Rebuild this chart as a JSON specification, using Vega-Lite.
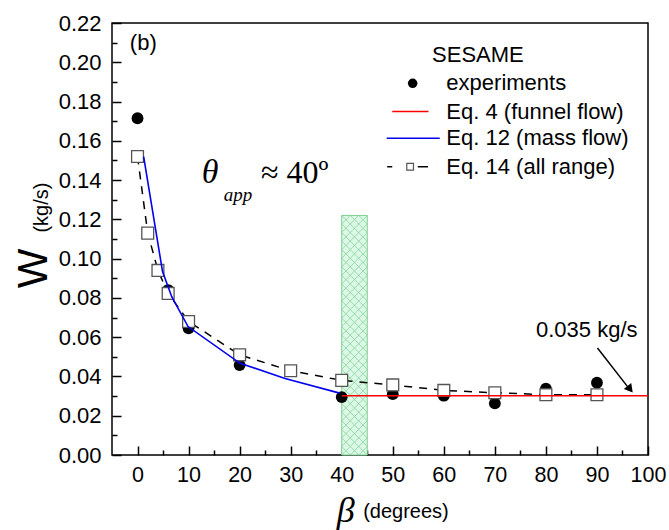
{
  "$schema": "https://vega.github.io/schema/vega-lite/v6.json",
  "width": 536,
  "height": 432,
  "autosize": "none",
  "padding": {"left": 112, "top": 23, "right": 21, "bottom": 75},
  "background": "white",
  "config": {
    "view": {"stroke": "black", "strokeWidth": 1.5},
    "font": "Liberation Sans"
  },
  "datasets": {
    "exp": [
      {"x": 0, "y": 0.1715}, {"x": 6, "y": 0.084}, {"x": 10, "y": 0.0645}, {"x": 20, "y": 0.0458},
      {"x": 40, "y": 0.0295}, {"x": 50, "y": 0.031}, {"x": 60, "y": 0.0302}, {"x": 70, "y": 0.0263},
      {"x": 80, "y": 0.0338}, {"x": 90, "y": 0.0368}
    ],
    "eq14": [
      {"x": 0, "y": 0.152}, {"x": 2, "y": 0.113}, {"x": 4, "y": 0.094}, {"x": 6, "y": 0.0823},
      {"x": 10, "y": 0.068}, {"x": 20, "y": 0.051}, {"x": 30, "y": 0.0429}, {"x": 40, "y": 0.038},
      {"x": 50, "y": 0.0357}, {"x": 60, "y": 0.0329}, {"x": 70, "y": 0.0317}, {"x": 80, "y": 0.0307},
      {"x": 90, "y": 0.0307}
    ],
    "eq12": [
      {"x": 1.2, "y": 0.152}, {"x": 4.9, "y": 0.0934}, {"x": 6.7, "y": 0.0806}, {"x": 9.9, "y": 0.0654},
      {"x": 20.1, "y": 0.0467}, {"x": 28.9, "y": 0.039}, {"x": 39.6, "y": 0.0315}
    ],
    "eq4": [{"x": 40, "y": 0.0302}, {"x": 100, "y": 0.0302}],
    "band": [{"x": 40, "x2": 45, "y": 0, "y2": 0.122}],
    "hatch": [
      {"x": 43.333, "y": 0, "x2": 45, "y2": 0.004357},
      {"x": 41.667, "y": 0, "x2": 45, "y2": 0.008714},
      {"x": 40, "y": 0, "x2": 45, "y2": 0.013071},
      {"x": 40, "y": 0.004357, "x2": 45, "y2": 0.017429},
      {"x": 40, "y": 0.008714, "x2": 45, "y2": 0.021786},
      {"x": 40, "y": 0.013071, "x2": 45, "y2": 0.026143},
      {"x": 40, "y": 0.017429, "x2": 45, "y2": 0.0305},
      {"x": 40, "y": 0.021786, "x2": 45, "y2": 0.034857},
      {"x": 40, "y": 0.026143, "x2": 45, "y2": 0.039214},
      {"x": 40, "y": 0.0305, "x2": 45, "y2": 0.043571},
      {"x": 40, "y": 0.034857, "x2": 45, "y2": 0.047929},
      {"x": 40, "y": 0.039214, "x2": 45, "y2": 0.052286},
      {"x": 40, "y": 0.043571, "x2": 45, "y2": 0.056643},
      {"x": 40, "y": 0.047929, "x2": 45, "y2": 0.061},
      {"x": 40, "y": 0.052286, "x2": 45, "y2": 0.065357},
      {"x": 40, "y": 0.056643, "x2": 45, "y2": 0.069714},
      {"x": 40, "y": 0.061, "x2": 45, "y2": 0.074071},
      {"x": 40, "y": 0.065357, "x2": 45, "y2": 0.078429},
      {"x": 40, "y": 0.069714, "x2": 45, "y2": 0.082786},
      {"x": 40, "y": 0.074071, "x2": 45, "y2": 0.087143},
      {"x": 40, "y": 0.078429, "x2": 45, "y2": 0.0915},
      {"x": 40, "y": 0.082786, "x2": 45, "y2": 0.095857},
      {"x": 40, "y": 0.087143, "x2": 45, "y2": 0.100214},
      {"x": 40, "y": 0.0915, "x2": 45, "y2": 0.104571},
      {"x": 40, "y": 0.095857, "x2": 45, "y2": 0.108929},
      {"x": 40, "y": 0.100214, "x2": 45, "y2": 0.113286},
      {"x": 40, "y": 0.104571, "x2": 45, "y2": 0.117643},
      {"x": 40, "y": 0.108929, "x2": 45, "y2": 0.122},
      {"x": 40, "y": 0.113286, "x2": 43.333, "y2": 0.122},
      {"x": 40, "y": 0.117643, "x2": 41.667, "y2": 0.122},
      {"x": 40, "y": 0.004357, "x2": 41.667, "y2": 0},
      {"x": 40, "y": 0.008714, "x2": 43.333, "y2": 0},
      {"x": 40, "y": 0.013071, "x2": 45, "y2": 0},
      {"x": 40, "y": 0.017429, "x2": 45, "y2": 0.004357},
      {"x": 40, "y": 0.021786, "x2": 45, "y2": 0.008714},
      {"x": 40, "y": 0.026143, "x2": 45, "y2": 0.013071},
      {"x": 40, "y": 0.0305, "x2": 45, "y2": 0.017429},
      {"x": 40, "y": 0.034857, "x2": 45, "y2": 0.021786},
      {"x": 40, "y": 0.039214, "x2": 45, "y2": 0.026143},
      {"x": 40, "y": 0.043571, "x2": 45, "y2": 0.0305},
      {"x": 40, "y": 0.047929, "x2": 45, "y2": 0.034857},
      {"x": 40, "y": 0.052286, "x2": 45, "y2": 0.039214},
      {"x": 40, "y": 0.056643, "x2": 45, "y2": 0.043571},
      {"x": 40, "y": 0.061, "x2": 45, "y2": 0.047929},
      {"x": 40, "y": 0.065357, "x2": 45, "y2": 0.052286},
      {"x": 40, "y": 0.069714, "x2": 45, "y2": 0.056643},
      {"x": 40, "y": 0.074071, "x2": 45, "y2": 0.061},
      {"x": 40, "y": 0.078429, "x2": 45, "y2": 0.065357},
      {"x": 40, "y": 0.082786, "x2": 45, "y2": 0.069714},
      {"x": 40, "y": 0.087143, "x2": 45, "y2": 0.074071},
      {"x": 40, "y": 0.0915, "x2": 45, "y2": 0.078429},
      {"x": 40, "y": 0.095857, "x2": 45, "y2": 0.082786},
      {"x": 40, "y": 0.100214, "x2": 45, "y2": 0.087143},
      {"x": 40, "y": 0.104571, "x2": 45, "y2": 0.0915},
      {"x": 40, "y": 0.108929, "x2": 45, "y2": 0.095857},
      {"x": 40, "y": 0.113286, "x2": 45, "y2": 0.100214},
      {"x": 40, "y": 0.117643, "x2": 45, "y2": 0.104571},
      {"x": 40, "y": 0.122, "x2": 45, "y2": 0.108929},
      {"x": 41.667, "y": 0.122, "x2": 45, "y2": 0.113286},
      {"x": 43.333, "y": 0.122, "x2": 45, "y2": 0.117643}
    ],
    "arrow": [{"x": 90.1, "y": 0.0545, "x2": 96.3, "y2": 0.0338}],
    "arrowhead": [{"x": 96.5, "y": 0.0335}],
    "legtext": [
      {"x": 57.7, "y": 0.2037, "t": "SESAME"},
      {"x": 60.5, "y": 0.1893, "t": "experiments"},
      {"x": 60.5, "y": 0.1749, "t": "Eq. 4 (funnel flow)"},
      {"x": 60.5, "y": 0.1613, "t": "Eq. 12 (mass flow)"},
      {"x": 60.5, "y": 0.1468, "t": "Eq. 14 (all range)"},
      {"x": -1.5, "y": 0.2098, "t": "(b)"},
      {"x": 88, "y": 0.0637, "t": "0.035 kg/s", "a": "center"}
    ],
    "legdot": [{"x": 53.9, "y": 0.1893}],
    "legred": [{"x": 49.9, "x2": 57.0, "y": 0.1749}],
    "legblue": [{"x": 48.8, "x2": 59.2, "y": 0.1613}],
    "legdash": [{"x": 48.9, "x2": 49.9, "y": 0.1468}, {"x": 54.9, "x2": 56.9, "y": 0.1468}],
    "legsq": [{"x": 53.4, "y": 0.1468}],
    "minor": [{"x": 0, "y": 0}]
  },
  "encoding": {
    "x": {"field": "x", "type": "quantitative", "scale": {"domain": [-5, 100], "nice": false, "zero": false}, "axis": null},
    "y": {"field": "y", "type": "quantitative", "scale": {"domain": [0, 0.22], "nice": false, "zero": false}, "axis": null}
  },
  "layer": [
    {
      "data": {"name": "band"},
      "mark": {"type": "rect", "fill": "#dcf8e9", "stroke": "#7fcf8f", "strokeWidth": 1},
      "encoding": {
        "x": {"field": "x", "type": "quantitative", "scale": {"domain": [-5, 100], "nice": false, "zero": false},
          "axis": {"orient": "bottom", "values": [0, 10, 20, 30, 40, 50, 60, 70, 80, 90, 100], "title": null, "domain": false,
            "tickSize": -9, "tickWidth": 1.5, "tickColor": "black", "labelPadding": 18, "labelFontSize": 21.5,
            "labelColor": "black", "labelFont": "Liberation Sans", "grid": false, "labelFlush": false}},
        "x2": {"field": "x2"},
        "y": {"field": "y", "type": "quantitative", "scale": {"domain": [0, 0.22], "nice": false, "zero": false},
          "axis": {"orient": "left", "values": [0, 0.02, 0.04, 0.06, 0.08, 0.1, 0.12, 0.14, 0.16, 0.18, 0.2, 0.22], "format": ".2f", "title": null, "domain": false,
            "tickSize": -9, "tickWidth": 1.5, "tickColor": "black", "labelPadding": 20, "labelFontSize": 22,
            "labelColor": "black", "labelFont": "Liberation Sans", "grid": false, "labelFlush": false}},
        "y2": {"field": "y2"}
      }
    },
    {
      "data": {"name": "hatch"},
      "mark": {"type": "rule", "color": "#86d494", "strokeWidth": 0.8},
      "encoding": {"x2": {"field": "x2"}, "y2": {"field": "y2"}}
    },
    {
      "data": {"name": "minor"},
      "mark": {"type": "point", "opacity": 0},
      "encoding": {
        "x": {"field": "x", "type": "quantitative", "scale": {"domain": [-5, 100], "nice": false, "zero": false},
          "axis": {"orient": "bottom", "values": [5, 15, 25, 35, 45, 55, 65, 75, 85, 95], "title": null, "domain": false, "labels": false,
            "tickSize": -5, "tickWidth": 1.5, "tickColor": "black", "grid": false}},
        "y": {"field": "y", "type": "quantitative", "scale": {"domain": [0, 0.22], "nice": false, "zero": false},
          "axis": {"orient": "left", "values": [0.01, 0.03, 0.05, 0.07, 0.09, 0.11, 0.13, 0.15, 0.17, 0.19, 0.21], "title": null, "domain": false, "labels": false,
            "tickSize": -5, "tickWidth": 1.5, "tickColor": "black", "grid": false}}
      }
    },
    {
      "data": {"name": "exp"},
      "mark": {"type": "point", "shape": "circle", "filled": true, "color": "black", "size": 140, "opacity": 1}
    },
    {
      "data": {"name": "eq14"},
      "mark": {"type": "line", "color": "black", "strokeWidth": 1.5, "strokeDash": [8, 7]}
    },
    {
      "data": {"name": "eq14"},
      "mark": {"type": "point", "shape": "square", "filled": true, "fill": "white", "stroke": "#555555", "strokeWidth": 1.3, "size": 140, "opacity": 1}
    },
    {
      "data": {"name": "eq12"},
      "mark": {"type": "line", "color": "#0000ee", "strokeWidth": 1.6}
    },
    {
      "data": {"name": "eq4"},
      "mark": {"type": "line", "color": "#ff0000", "strokeWidth": 1.6}
    },
    {
      "data": {"name": "arrow"},
      "mark": {"type": "rule", "color": "black", "strokeWidth": 1.5},
      "encoding": {"x2": {"field": "x2"}, "y2": {"field": "y2"}}
    },
    {
      "data": {"name": "arrowhead"},
      "mark": {"type": "point", "shape": "triangle-up", "filled": true, "color": "black", "size": 90, "angle": 141, "opacity": 1}
    },
    {
      "data": {"name": "legdot"},
      "mark": {"type": "point", "shape": "circle", "filled": true, "color": "black", "size": 90, "opacity": 1}
    },
    {
      "data": {"name": "legred"},
      "mark": {"type": "rule", "color": "#ff0000", "strokeWidth": 1.5},
      "encoding": {"x2": {"field": "x2"}}
    },
    {
      "data": {"name": "legblue"},
      "mark": {"type": "rule", "color": "#0000ee", "strokeWidth": 1.5},
      "encoding": {"x2": {"field": "x2"}}
    },
    {
      "data": {"name": "legdash"},
      "mark": {"type": "rule", "color": "black", "strokeWidth": 1.5},
      "encoding": {"x2": {"field": "x2"}}
    },
    {
      "data": {"name": "legsq"},
      "mark": {"type": "point", "shape": "square", "filled": true, "fill": "white", "stroke": "#555555", "strokeWidth": 1.2, "size": 45, "opacity": 1}
    },
    {
      "data": {"name": "legtext"},
      "transform": [{"filter": "datum.a !== 'center'"}],
      "mark": {"type": "text", "align": "left", "baseline": "middle", "fontSize": 22, "color": "black", "font": "Liberation Sans"},
      "encoding": {"text": {"field": "t"}}
    },
    {
      "data": {"name": "legtext"},
      "transform": [{"filter": "datum.a === 'center'"}],
      "mark": {"type": "text", "align": "center", "baseline": "middle", "fontSize": 22, "color": "black", "font": "Liberation Sans"},
      "encoding": {"text": {"field": "t"}}
    },
    {
      "data": {"values": [{"x": 14.2, "y": 0.1435, "t": "θ"}]},
      "mark": {"type": "text", "align": "center", "baseline": "middle", "fontSize": 34, "fontStyle": "italic", "color": "black", "font": "Liberation Serif"},
      "encoding": {"text": {"field": "t"}}
    },
    {
      "data": {"values": [{"x": 16.9, "y": 0.1325, "t": "app"}]},
      "mark": {"type": "text", "align": "left", "baseline": "middle", "fontSize": 19, "fontStyle": "italic", "color": "black", "font": "Liberation Serif"},
      "encoding": {"text": {"field": "t"}}
    },
    {
      "data": {"values": [{"x": 24.2, "y": 0.1435, "t": "≈ 40º"}]},
      "mark": {"type": "text", "align": "left", "baseline": "middle", "fontSize": 32, "color": "black", "font": "Liberation Serif"},
      "encoding": {"text": {"field": "t"}}
    },
    {
      "data": {"values": [{"x": -20.3, "y": 0.095, "t": "W"}]},
      "mark": {"type": "text", "align": "center", "baseline": "middle", "fontSize": 42, "angle": 270, "color": "black", "font": "Liberation Sans"},
      "encoding": {"text": {"field": "t"}}
    },
    {
      "data": {"values": [{"x": -18.8, "y": 0.126, "t": "(kg/s)"}]},
      "mark": {"type": "text", "align": "center", "baseline": "middle", "fontSize": 20, "angle": 270, "color": "black", "font": "Liberation Sans"},
      "encoding": {"text": {"field": "t"}}
    },
    {
      "data": {"values": [{"x": 40.8, "y": -0.0285, "t": "β"}]},
      "mark": {"type": "text", "align": "center", "baseline": "middle", "fontSize": 36, "fontStyle": "italic", "color": "black", "font": "Liberation Serif"},
      "encoding": {"text": {"field": "t"}}
    },
    {
      "data": {"values": [{"x": 44.2, "y": -0.029, "t": "(degrees)"}]},
      "mark": {"type": "text", "align": "left", "baseline": "middle", "fontSize": 20, "color": "black", "font": "Liberation Sans"},
      "encoding": {"text": {"field": "t"}}
    }
  ],
  "resolve": {"axis": {"x": "independent", "y": "independent"}}
}
